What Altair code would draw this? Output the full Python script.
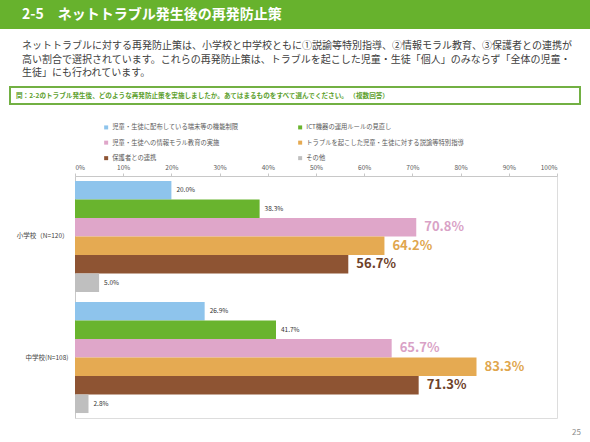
import altair as alt
import pandas as pd

# ---- data -------------------------------------------------------------
groups = ["小学校（N=120）", "中学校(N=108)"]
series = [
    "児童・生徒に配布している端末等の機能制限",
    "ICT機器の運用ルールの見直し",
    "児童・生徒への情報モラル教育の実施",
    "トラブルを起こした児童・生徒に対する説諭等特別指導",
    "保護者との連携",
    "その他",
]
elementary = [20.0, 38.3, 70.8, 64.2, 56.7, 5.0]
junior_high = [26.9, 41.7, 65.7, 83.3, 71.3, 2.8]
emphasized = [False, False, True, True, True, False]

bar_colors = ["#8ec4ec", "#69b42e", "#dfa6c9", "#e5aa52", "#8e5433", "#bfbfbf"]
label_colors = ["#333333", "#333333", "#d9a2c6", "#e0a64e", "#6e4129", "#333333"]
x_ticks = list(range(0, 101, 10))

# legend entries fill column by column; this order reads left-to-right in rows
legend_order = [series[0], series[2], series[4], series[1], series[3], series[5]]

heading = "2-5　ネットトラブル発生後の再発防止策"
paragraph = [
    "ネットトラブルに対する再発防止策は、小学校と中学校ともに①説諭等特別指導、②情報モラル教育、③保護者との連携が",
    "高い割合で選択されています。これらの再発防止策は、トラブルを起こした児童・生徒「個人」のみならず「全体の児童・",
    "生徒」にも行われています。",
]
question = "問：2-2のトラブル発生後、どのような再発防止策を実施しましたか。あてはまるものをすべて選んでください。 （複数回答）"
page_no = "25"

FONT = "Noto Sans CJK JP"
GREEN = "#67b22d"

rows = []
for g, vals in zip(groups, [elementary, junior_high]):
    for i, (s, v) in enumerate(zip(series, vals)):
        rows.append({"group": g, "series": s, "value": v, "big": emphasized[i]})
df = pd.DataFrame(rows)
one = pd.DataFrame({"k": [0]})

# ---- bars -------------------------------------------------------------
y_enc = alt.Y(
    "group:N",
    sort=groups,
    title=None,
    scale=alt.Scale(paddingInner=0.083, paddingOuter=0.041),
    axis=alt.Axis(
        ticks=False,
        labelPadding=7,
        labelFontSize=6.5,
        labelColor="#404040",
        domainColor="#c8c8c8",
        labelFont=FONT,
    ),
)
yoff_enc = alt.YOffset(
    "series:N", sort=series, scale=alt.Scale(paddingInner=0, paddingOuter=0)
)
x_enc = alt.X(
    "value:Q",
    title=None,
    scale=alt.Scale(domain=[0, 100], nice=False),
    axis=alt.Axis(
        orient="top",
        values=x_ticks,
        labelExpr="datum.value + '%'",
        grid=False,
        tickSize=3,
        tickColor="#c8c8c8",
        domainColor="#c8c8c8",
        labelPadding=3,
        labelFontSize=6.5,
        labelColor="#595959",
        labelFont=FONT,
    ),
)

base = alt.Chart(df).encode(y=y_enc, yOffset=yoff_enc, x=x_enc)

bars = base.mark_bar(size=18.5).encode(
    color=alt.Color(
        "series:N",
        sort=series,
        scale=alt.Scale(domain=series, range=bar_colors),
        legend=alt.Legend(
            orient="none",
            legendX=28,
            legendY=-52,
            columns=2,
            values=legend_order,
            title=None,
            symbolType="square",
            symbolSize=16,
            symbolStrokeWidth=0,
            labelFontSize=6.3,
            labelColor="#595959",
            labelFont=FONT,
            labelLimit=300,
            labelOffset=3,
            columnPadding=58,
            rowPadding=8.5,
        ),
    )
)

label_expr = "format(datum.value, '.1f') + '%'"

small_labels = (
    base.transform_filter("!datum.big")
    .transform_calculate(label=label_expr)
    .mark_text(align="left", baseline="middle", dx=5, fontSize=6.5, font=FONT)
    .encode(text="label:N", color=alt.value("#333333"))
)

big_labels = (
    base.transform_filter("datum.big")
    .transform_calculate(label=label_expr)
    .mark_text(
        align="left", baseline="middle", dx=8, fontSize=13, fontWeight="bold", font=FONT
    )
    .encode(
        text="label:N",
        color=alt.Color(
            "series:N",
            scale=alt.Scale(domain=series, range=label_colors),
            legend=None,
        ),
    )
)

# ---- page furniture (pixel positions relative to plot origin) ---------
banner = alt.Chart(one).mark_rect(color=GREEN).encode(
    x=alt.value(-75), x2=alt.value(515), y=alt.value(-176), y2=alt.value(-147)
)
banner_text = alt.Chart(one).mark_text(
    text=heading, align="left", baseline="middle", fontSize=14,
    fontWeight="bold", color="white", font=FONT,
).encode(x=alt.value(-53), y=alt.value(-161))

para_layers = []
for i, line in enumerate(paragraph):
    para_layers.append(
        alt.Chart(one).mark_text(
            text=line, align="left", baseline="middle", fontSize=10,
            color="#404040", font=FONT,
        ).encode(x=alt.value(-53), y=alt.value(-130 + i * 13.5))
    )

qbox = alt.Chart(one).mark_rect(
    fill="white", stroke="#72b043", strokeWidth=2
).encode(x=alt.value(-65), x2=alt.value(505), y=alt.value(-89), y2=alt.value(-72))
qtext = alt.Chart(one).mark_text(
    text=question, align="left", baseline="middle", fontSize=6.6,
    fontWeight="bold", color="#5d9f2e", font=FONT,
).encode(x=alt.value(-59), y=alt.value(-80.5))

page = alt.Chart(one).mark_text(
    text=page_no, align="right", baseline="middle", fontSize=8,
    color="#8c8c8c", font=FONT,
).encode(x=alt.value(506), y=alt.value(257))

chart = (
    alt.layer(
        banner, banner_text, *para_layers, qbox, qtext, page,
        bars, small_labels, big_labels,
    )
    .resolve_scale(color="independent")
    .properties(
        width=482,
        height=242,
        padding={"left": 75, "top": 176, "right": 33, "bottom": 24},
        autosize=alt.AutoSizeParams(type="none"),
        background="white",
    )
    .configure_view(stroke=None)
    .configure(font=FONT)
)

chart.save("out.html", embed_options={"renderer": "svg", "actions": False})
